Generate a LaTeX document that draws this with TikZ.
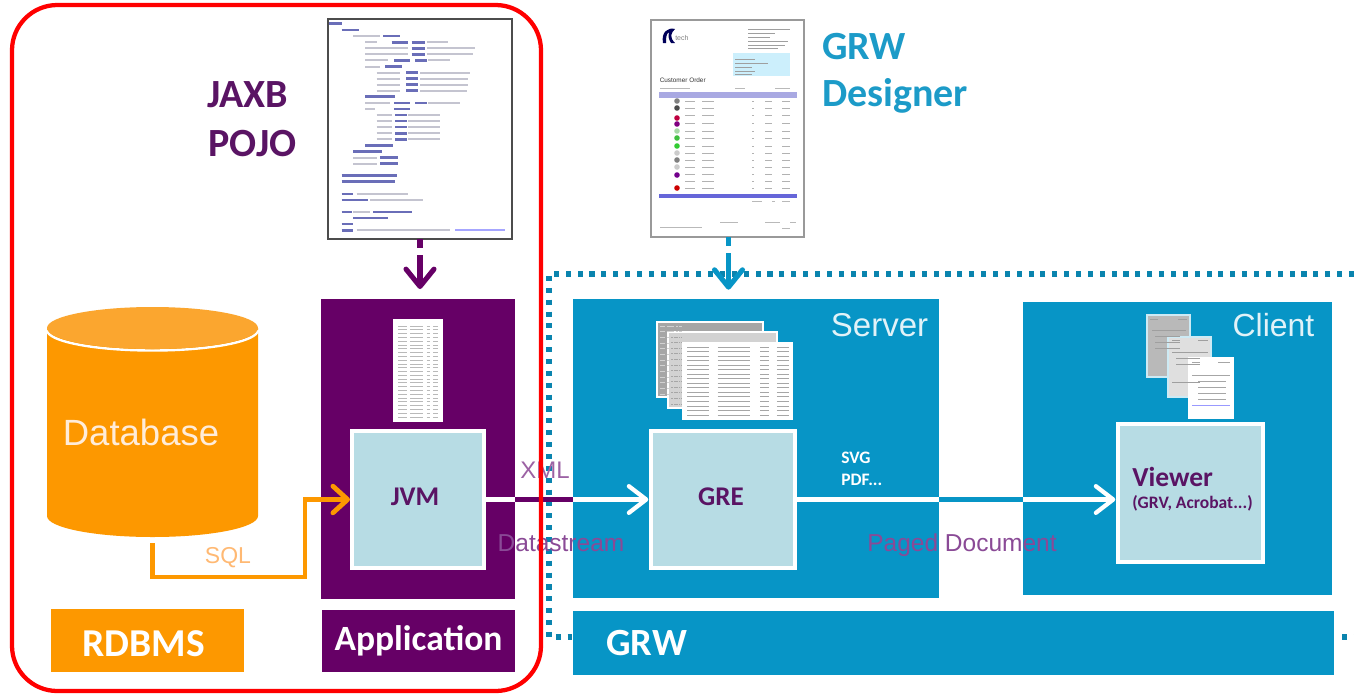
\documentclass[tikz,border=0pt]{standalone}
\usepackage{fontspec}
\setmainfont{Liberation Sans}
\newfontfamily\carl{Carlito}
\usetikzlibrary{arrows.meta,calc}
\definecolor{bluebox}{HTML}{0795C6}
\definecolor{bluedark}{HTML}{0A84AE}
\definecolor{bluetxt}{HTML}{1C9BC8}
\definecolor{purp}{HTML}{660066}
\definecolor{purptxt}{HTML}{5A1464}
\definecolor{orng}{HTML}{FD9800}
\definecolor{orngl}{HTML}{FBA62F}
\definecolor{pale}{HTML}{B7DCE4}
\definecolor{faded}{HTML}{9C62A4}
\definecolor{fadedb}{HTML}{8A4A96}
\definecolor{kw}{HTML}{6A6EB8}
\definecolor{tx}{HTML}{C4C4D0}
\newcommand{\fpx}[1]{\pgfmathsetmacro\fsz{#1*0.75}\fontsize{\fsz pt}{\fsz pt}\selectfont}
\newcommand{\pxbox}[7]{%
  \pgfmathsetmacro\bw{(#5-#3)*0.75}\pgfmathsetmacro\bh{(#6-#4)*0.75}%
  \node[#1,minimum width=\bw pt,minimum height=\bh pt,inner sep=0pt,outer sep=0pt] (#2) at ({(#3+#5)/2},{(#4+#6)/2}) {#7};}
% horizontal bars: y/x1/x2
\newcommand{\bars}[3]{\foreach \yy/\xa/\xb in {#3}{\draw[#1,line width=#2*0.75pt] (\xa,\yy) -- (\xb,\yy);}}
% rows of a miniature table
\newcommand{\rows}[6]{\foreach \k in {0,...,#5}{\pgfmathsetmacro\yy{#3+\k*(#4-#3)/#5}\draw[#6,line width=0.6pt] (#1,\yy) -- ({#1+(#2-#1)*0.22},\yy) ({#1+(#2-#1)*0.3},\yy) -- ({#1+(#2-#1)*0.62},\yy) ({#1+(#2-#1)*0.72},\yy) -- ({#1+(#2-#1)*0.8},\yy) ({#1+(#2-#1)*0.88},\yy) -- (#2,\yy);}}
\tikzset{
  x=0.75pt,y=-0.75pt,
  blk/.style={fill=bluebox},
  purpblk/.style={fill=purp},
  inner/.style={fill=pale,draw=white,line width=3pt},
  page/.style={fill=white,draw=#1,line width=1.4pt},
  labbig/.style={font=\carl\bfseries\fpx{40},text=#1,anchor=west,inner sep=0pt},
  lightlab/.style={font=\fpx{#1},text=white!88!bluebox,inner sep=0pt},
  fadedlab/.style={font=\fpx{#1},text=faded,inner sep=0pt},
  flow/.style={line width=3.2pt,-{Straight Barb[length=13pt,width=20pt,line cap=round,round]}},
  plain/.style={line width=3.2pt},
  dl/.style={line width=3.8pt,dash pattern=on 7pt off 5pt on 40pt,-{Straight Barb[length=13pt,width=21pt,round]}},
  dots/.style={bluedark,line width=3.8pt,dash pattern=on 3.8pt off 5.1pt},
}
\begin{document}
\begin{tikzpicture}
\useasboundingbox (0,0) rectangle (1354,694);
\fill[white] (0,0) rectangle (1354,694);

% GRW dotted frame
\draw[dots] (1354,274) -- (549,274) -- (549,637) -- (572,637);
\draw[dots] (1342,637) -- (1354,637);

% Database
\pxbox{}{db}{47}{307}{258}{537}{}
\fill[orng] (47,328) -- (47,516) arc[start angle=180,end angle=0,x radius=105.5,y radius=21] -- (258,328) -- cycle;
\draw[white,line width=1.8pt] (47,330) arc[start angle=180,end angle=0,x radius=105.5,y radius=20.5];
\fill[orngl] (152.5,328) ellipse[x radius=105.5,y radius=21];
\node[font=\fpx{36.5},text=white!85!orange,inner sep=0pt] (dbtxt) at (141,432) {Database};
\pxbox{fill=orng}{rdbms}{51}{609}{244}{672}{}
\node[font=\carl\bfseries\fpx{39.5},text=white,inner sep=0pt] (rdbmst) at (143.5,644) {RDBMS};
\pxbox{purpblk,font=\carl\bfseries\fpx{35.5},text=white}{appl}{322}{610}{515}{672}{Application}

% Application
\pxbox{purpblk}{app}{321}{299}{515}{599}{}
\pxbox{page=white}{appdoc}{394}{320}{442}{421}{}
\rows{398}{438}{326}{417}{24}{gray!55}
\pxbox{inner}{jvm}{352}{431}{484}{568}{}
\node[font=\carl\bfseries\fpx{27},text=purptxt,inner sep=0pt] (jvmt) at (415,497) {JVM};

% Server
\pxbox{blk}{srv}{573}{299}{939}{598}{}
\pxbox{page=white,fill=gray!70}{sa}{657}{322}{763}{397}{}
\pxbox{page=white,fill=gray!35}{sb}{668}{332}{777}{408}{}
\pxbox{page=white}{sc}{683}{343}{792}{419}{}
\rows{660}{682}{326}{394}{12}{gray!35}
\rows{671}{682}{337}{404}{12}{gray!70}
\rows{687}{789}{347}{415}{15}{gray!70}
\pxbox{inner}{gre}{651}{431}{795}{568}{}
\node[font=\carl\bfseries\fpx{27},text=purptxt,inner sep=0pt] (gret) at (721,497) {GRE};
\node[lightlab=33,anchor=center] (srvt) at (879.5,325) {Server};
\node[font=\carl\bfseries\fpx{17.5},text=white,anchor=west,inner sep=0pt] (svg) at (841,458) {SVG};
\node[font=\carl\bfseries\fpx{17.5},text=white,anchor=west,inner sep=0pt] (pdf) at (841,480) {PDF...};

% Client
\pxbox{blk}{cli}{1023}{302}{1332}{595}{}
\pxbox{page=white!80!bluebox,fill=gray!55}{ca}{1147}{315}{1190}{377}{}
\pxbox{page=white!80!bluebox,fill=gray!25}{cb}{1168}{337}{1211}{397}{}
\pxbox{page=white}{cc}{1189}{358}{1233}{418}{}
\bars{gray!75}{1}{319/1150/1158,319/1178/1187,330/1152/1186,336/1155/1180,342/1155/1180,348/1155/1180,340/1172/1180,340/1198/1208,352/1172/1208,358/1176/1200,364/1176/1200,382/1172/1200}
\bars{gray!70}{1}{362/1192/1200,362/1218/1230,375/1192/1230,381/1198/1226,387/1198/1226,393/1198/1226,399/1198/1226}
\bars{blue!40}{1}{405/1192/1230}
\node[lightlab=32,anchor=center] (clit) at (1273.5,325) {Client};
\pxbox{inner}{view}{1118}{424}{1263}{562}{}
\node[font=\carl\bfseries\fpx{27.5},text=purptxt,anchor=west,inner sep=0pt] (vw) at (1132,477) {Viewer};
\node[font=\carl\bfseries\fpx{17.5},text=purptxt,anchor=west,inner sep=0pt] (vw2) at (1132,503) {(GRV, Acrobat...)};

% GRW bar
\pxbox{blk}{grw}{573}{611}{1334}{675}{}
\node[font=\carl\bfseries\fpx{38.5},text=white,anchor=west,inner sep=0pt] (grwt) at (606,643) {GRW};

% Code listing
\pxbox{page=black!70,line width=2pt}{code}{328}{19}{512}{239}{}
\begin{scope}[shift={(320,10)},x=0.25pt,y=-0.25pt]
\bars{kw}{2.4}{40/28/65,60/65/118,78/190/240,97/215/265,97/275/315,115/275/315,133/275/315,151/222/270,151/285/320,170/195/245,188/258/295,206/258/295,224/258/295,242/258/295,260/135/225,279/222/270,279/285/320,297/222/270,315/225/260,333/225/260,351/225/260,370/225/260,388/225/260,406/135/220,424/100/185,443/180/235,461/180/235,497/65/230,515/65/225,552/65/100,570/65/145,606/65/95,606/160/275,624/100/205,642/65/100,661/65/100}
\bars{tx}{2.2}{78/100/180,97/135/170,97/320/385,115/135/265,115/320/465,133/135/265,133/320/460,151/135/205,151/325/390,170/135/180,188/170/240,188/300/450,206/170/240,206/300/445,224/170/240,224/300/445,242/170/240,242/300/440,279/135/210,279/325/420,297/135/165,315/170/215,315/265/360,333/170/215,333/265/360,351/170/215,351/265/360,370/170/215,370/265/360,388/170/215,388/265/360,443/100/170,461/100/170,552/110/265,570/150/310,606/100/150,661/110/390}
\bars{blue!35}{2.2}{661/405/555}
\end{scope}

% Invoice
\pxbox{page=gray!80}{inv}{651}{20}{804}{237}{}
\fill[black!65!blue] (663,43) .. controls (661,32) and (668,27) .. (675,29) .. controls (671,33) and (669,37) .. (675,43) -- (671,43) .. controls (668,38) and (668,35) .. (669,32) .. controls (666,34) and (666,38) .. (666,43) -- cycle;
\node[font=\fpx{7},text=gray,anchor=west,inner sep=0pt] (logot) at (675,38) {tech};
\bars{gray!75}{0.9}{29/748/790,33/748/775,37/748/770,41/748/788,45/748/785,48/748/778}
\fill[cyan!20] (733,53) rectangle (790,76);
\bars{gray!75}{0.9}{59/735/755,63/735/768,67/735/752,71/735/755,74/735/752}
\node[font=\fpx{6.4},text=black!80,anchor=west,inner sep=0pt] (ord) at (659.5,80.5) {Customer Order};
\bars{gray!55}{0.8}{88/660/690,88/735/745,88/775/790}
\fill[blue!50!gray!45] (659,92) rectangle (797,98);
\foreach \yy in {101,108,115,123,131,138,146,153,160,167,174,181,188}{
  \draw[gray!60,line width=0.5pt] (685,\yy) -- (695,\yy) (702,\yy) -- (714,\yy) (752,\yy) -- (754,\yy) (765,\yy) -- (772,\yy) (782,\yy) -- (790,\yy);
}
\foreach \yy/\cc in {101/gray,108/black!70,118/purple,124/violet,131/green!40!gray!50,138/green!50!gray,146/green!60!gray,153/gray!40,160/gray,167/gray!40,175/blue!40!purple,188/red!80!black}{
  \fill[\cc] (677,\yy) circle[radius=2.8];
}
\fill[blue!60!gray!75] (659,194) rectangle (797,198);
\bars{gray!55}{0.8}{201/752/762,201/772/775,201/782/790,222/720/738,222/765/780,222/790/796,227/660/702,228/782/790}

% Connectors
\draw[dl,draw=purp] (code.south) -- ([yshift=7.5pt]code.south |- app.north);
\draw[dl,draw=bluebox] ([xshift=0.75pt]inv.south) -- ([xshift=0.75pt,yshift=7pt]inv.south |- srv.north);
\draw[orng,line width=3.6pt,line join=miter,-{Straight Barb[length=11pt,width=20pt,round]},shorten >=1.5pt]
  ([yshift=-4.5pt]db.south) |- (305,577) |- (jvm.west);
\draw[plain,white] (jvm.east) -- (jvm.east -| app.east);
\draw[plain,purp] (jvm.east -| app.east) -- (jvm.east -| srv.west);
\draw[flow,white,shorten >=2pt] (jvm.east -| srv.west) -- (gre.west);
\draw[plain,white] (gre.east) -- (gre.east -| srv.east);
\draw[plain,bluebox] (gre.east -| srv.east) -- (gre.east -| cli.west);
\draw[flow,white,shorten >=2pt] (gre.east -| cli.west) -- (gre.east -| view.west);

% Labels
\node[font=\fpx{23},text=orange!55!white,inner sep=0pt] (sql) at (228,558) {SQL};
\node[fadedlab=24] (xml) at (545,470) {XML};
\node[font=\fpx{24.5},text=fadedb,inner sep=0pt] (ds) at (561,543) {Datastream};
\node[font=\fpx{24.5},text=fadedb,inner sep=0pt] (pd) at (962,545) {Paged Document};
\node[labbig=purptxt] (jaxb) at (207,95) {JAXB};
\node[labbig=purptxt] (pojo) at (208,144) {POJO};
\node[labbig=bluetxt] (grwd) at (822,47) {GRW};
\node[labbig=bluetxt] (dsg) at (822,96) {Designer};

% Red frame
\draw[red,line width=3.2pt,rounded corners=34pt] (12,5) rectangle (541,691);
\end{tikzpicture}
\end{document}
